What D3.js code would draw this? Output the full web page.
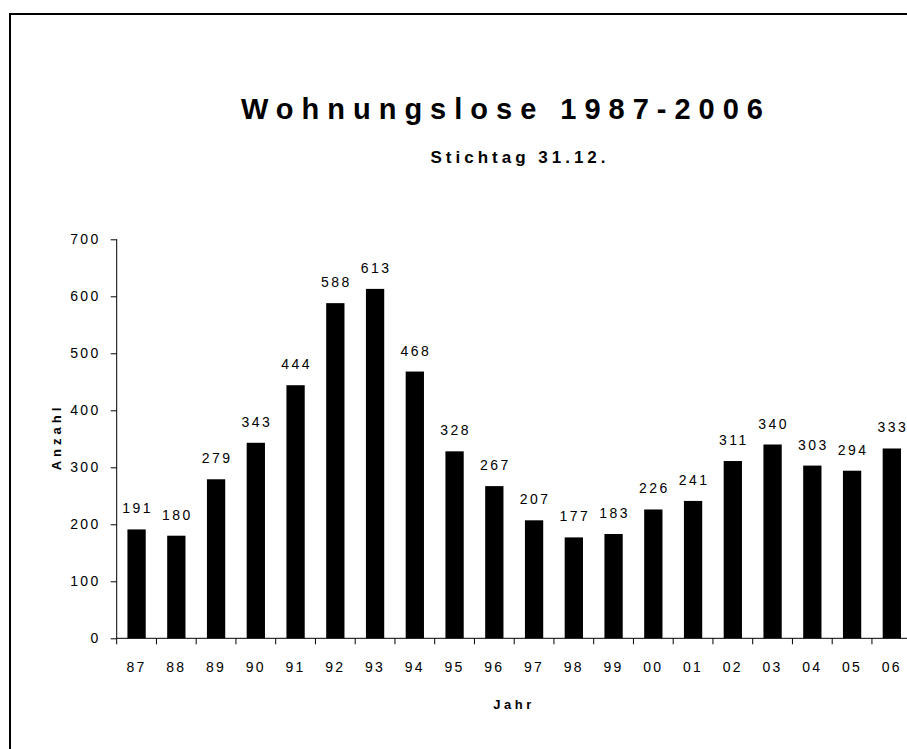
<!DOCTYPE html>
<html>
<head>
<meta charset="utf-8">
<script src="https://cdn.jsdelivr.net/npm/d3@7"></script>
<style>
  html, body { margin: 0; padding: 0; background: #fff; }
  svg { display: block; font-family: "Liberation Sans", Arial, sans-serif; }
</style>
</head>
<body>
<svg id="chart" width="907" height="749"></svg>
<script>
const years = ["87","88","89","90","91","92","93","94","95","96","97","98","99","00","01","02","03","04","05","06"];
const values = [191,180,279,343,444,588,613,468,328,267,207,177,183,226,241,311,340,303,294,333];
const yTicks = [0,100,200,300,400,500,600,700];
const titleText = "Wohnungslose 1987-2006";
const subtitleText = "Stichtag 31.12.";
const yTitle = "Anzahl";
const xTitle = "Jahr";

const svg = d3.select("#chart");

// outer frame (left & top edges visible)
svg.append("line").attr("x1", 10).attr("y1", 14).attr("x2", 907).attr("y2", 14)
  .attr("stroke", "#000").attr("stroke-width", 2);
svg.append("line").attr("x1", 10).attr("y1", 13).attr("x2", 10).attr("y2", 749)
  .attr("stroke", "#000").attr("stroke-width", 2);

const left = 116.7, step = 39.75;
const x = d3.scaleBand().domain(years).range([left, left + step * years.length])
  .paddingInner(0.54).paddingOuter(0.27);
const y = d3.scaleLinear().domain([0, 700]).range([638.3, 239.3]);

const labelFont = 14, labelSpacing = 2.4;

// bars
svg.append("g").selectAll("rect").data(values).join("rect")
  .attr("x", (d, i) => x(years[i]))
  .attr("y", d => y(d))
  .attr("width", x.bandwidth())
  .attr("height", d => y(0) - y(d))
  .attr("fill", "#000");

// value labels
svg.append("g").selectAll("text").data(values).join("text")
  .attr("x", (d, i) => x(years[i]) + x.bandwidth() / 2 + 1)
  .attr("y", d => y(d) - 16)
  .attr("text-anchor", "middle")
  .attr("font-size", labelFont)
  .attr("letter-spacing", labelSpacing)
  .text(d => d);

// y axis
const yAxis = svg.append("g").attr("transform", `translate(${left},0)`)
  .call(d3.axisLeft(y).tickValues(yTicks).tickSize(6).tickPadding(10).tickFormat(d3.format("d")));
yAxis.select(".domain").attr("d", `M0,${y(700)}V${y(0)}`).attr("stroke", "#000");
yAxis.selectAll(".tick line").attr("stroke", "#000");
yAxis.selectAll(".tick text").attr("font-size", labelFont).attr("letter-spacing", labelSpacing)
  .attr("fill", "#000").attr("font-family", "Liberation Sans, Arial, sans-serif");

// x axis
const xAxis = svg.append("g").attr("transform", `translate(0,${y(0)})`)
  .call(d3.axisBottom(x).tickSize(0).tickPadding(24));
xAxis.select(".domain").attr("d", `M${left},0H${left + step * years.length}`).attr("stroke", "#000");
xAxis.selectAll(".tick text").attr("font-size", labelFont).attr("letter-spacing", labelSpacing)
  .attr("fill", "#000").attr("font-family", "Liberation Sans, Arial, sans-serif");
// tick marks at band boundaries
xAxis.append("g").selectAll("line").data(years).join("line")
  .attr("x1", d => x(d) - x.step() * x.paddingInner() / 2)
  .attr("x2", d => x(d) - x.step() * x.paddingInner() / 2)
  .attr("y1", 0).attr("y2", 6).attr("stroke", "#000");

// titles
svg.append("text").attr("x", 506).attr("y", 119).attr("text-anchor", "middle")
  .attr("font-size", 29).attr("font-weight", "bold").attr("letter-spacing", 8)
  .text(titleText);
svg.append("text").attr("x", 520).attr("y", 163).attr("text-anchor", "middle")
  .attr("font-size", 17).attr("font-weight", "bold").attr("letter-spacing", 4)
  .text(subtitleText);
svg.append("text").attr("transform", "translate(61,437) rotate(-90)").attr("text-anchor", "middle")
  .attr("font-size", 13).attr("font-weight", "bold").attr("letter-spacing", 4)
  .text(yTitle);
svg.append("text").attr("x", 514).attr("y", 709).attr("text-anchor", "middle")
  .attr("font-size", 13).attr("font-weight", "bold").attr("letter-spacing", 3.5)
  .text(xTitle);
</script>
</body>
</html>
